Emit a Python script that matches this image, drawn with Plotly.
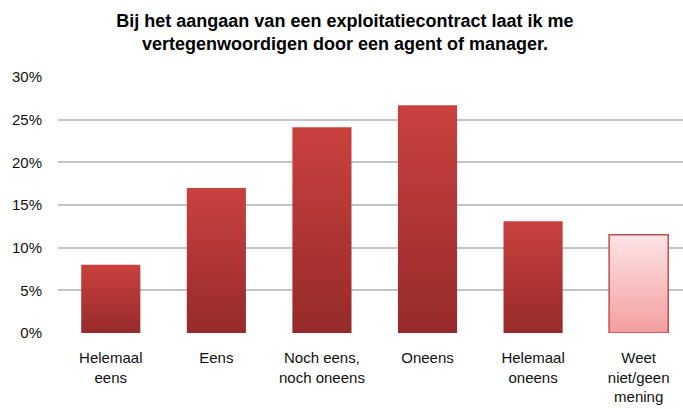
import plotly.graph_objects as go

categories = ["Helemaal<br>eens", "Eens", "Noch eens,<br>noch oneens", "Oneens",
              "Helemaal<br>oneens", "Weet<br>niet/geen<br>mening"]
values = [0.08, 0.17, 0.241, 0.267, 0.131, 0.115]
tick_vals = [0, 0.05, 0.10, 0.15, 0.20, 0.25, 0.30]
tick_text = ["0%", "5%", "10%", "15%", "20%", "25%", "30%"]

bar_width = 0.56
red_scale = [[0, "#962A2A"], [1, "#C9413E"]]
pink_scale = [[0, "#F49E9E"], [1, "#FDE4E5"]]

fig = go.Figure()
for i, (cat, v) in enumerate(zip(categories, values)):
    x0, x1 = i - bar_width / 2, i + bar_width / 2
    last = i == len(values) - 1
    fig.add_trace(go.Scatter(
        x=[x0, x1, x1, x0, x0], y=[0, 0, v, v, 0],
        fill="toself", mode="lines",
        line=dict(color="#C0504D" if last else "rgba(0,0,0,0)", width=1.5 if last else 0),
        fillgradient=dict(type="vertical", colorscale=pink_scale if last else red_scale),
        hoverinfo="text", text=f"{v:.1%}", showlegend=False,
    ))

fig.update_layout(
    width=683, height=409,
    margin=dict(l=58, r=0, t=77, b=76),
    paper_bgcolor="white", plot_bgcolor="white",
    font=dict(family="Liberation Sans, Arial, sans-serif", size=15, color="#111111"),
    title=dict(
        text="<b>Bij het aangaan van een exploitatiecontract laat ik me<br>vertegenwoordigen door een agent of manager.</b>",
        x=0.505, xanchor="center", y=0.934, yanchor="top",
        font=dict(size=18, color="#000000"),
    ),
    xaxis=dict(
        range=[-0.5, 5.42], tickmode="array", tickvals=list(range(len(categories))),
        ticktext=categories, showgrid=False, zeroline=False, showline=False,
        ticks="", ticklabelstandoff=14, fixedrange=True,
    ),
    yaxis=dict(
        range=[0, 0.30], tickmode="array", tickvals=tick_vals, ticktext=tick_text,
        showgrid=True, gridcolor="#C4C4C4", gridwidth=1.5, zeroline=False,
        showline=False, ticks="", ticklabelstandoff=15, fixedrange=True,
    ),
)

fig.write_html("out.html", config={"displayModeBar": False},
               post_script="document.body.style.margin='0';document.body.style.overflow='hidden';")
